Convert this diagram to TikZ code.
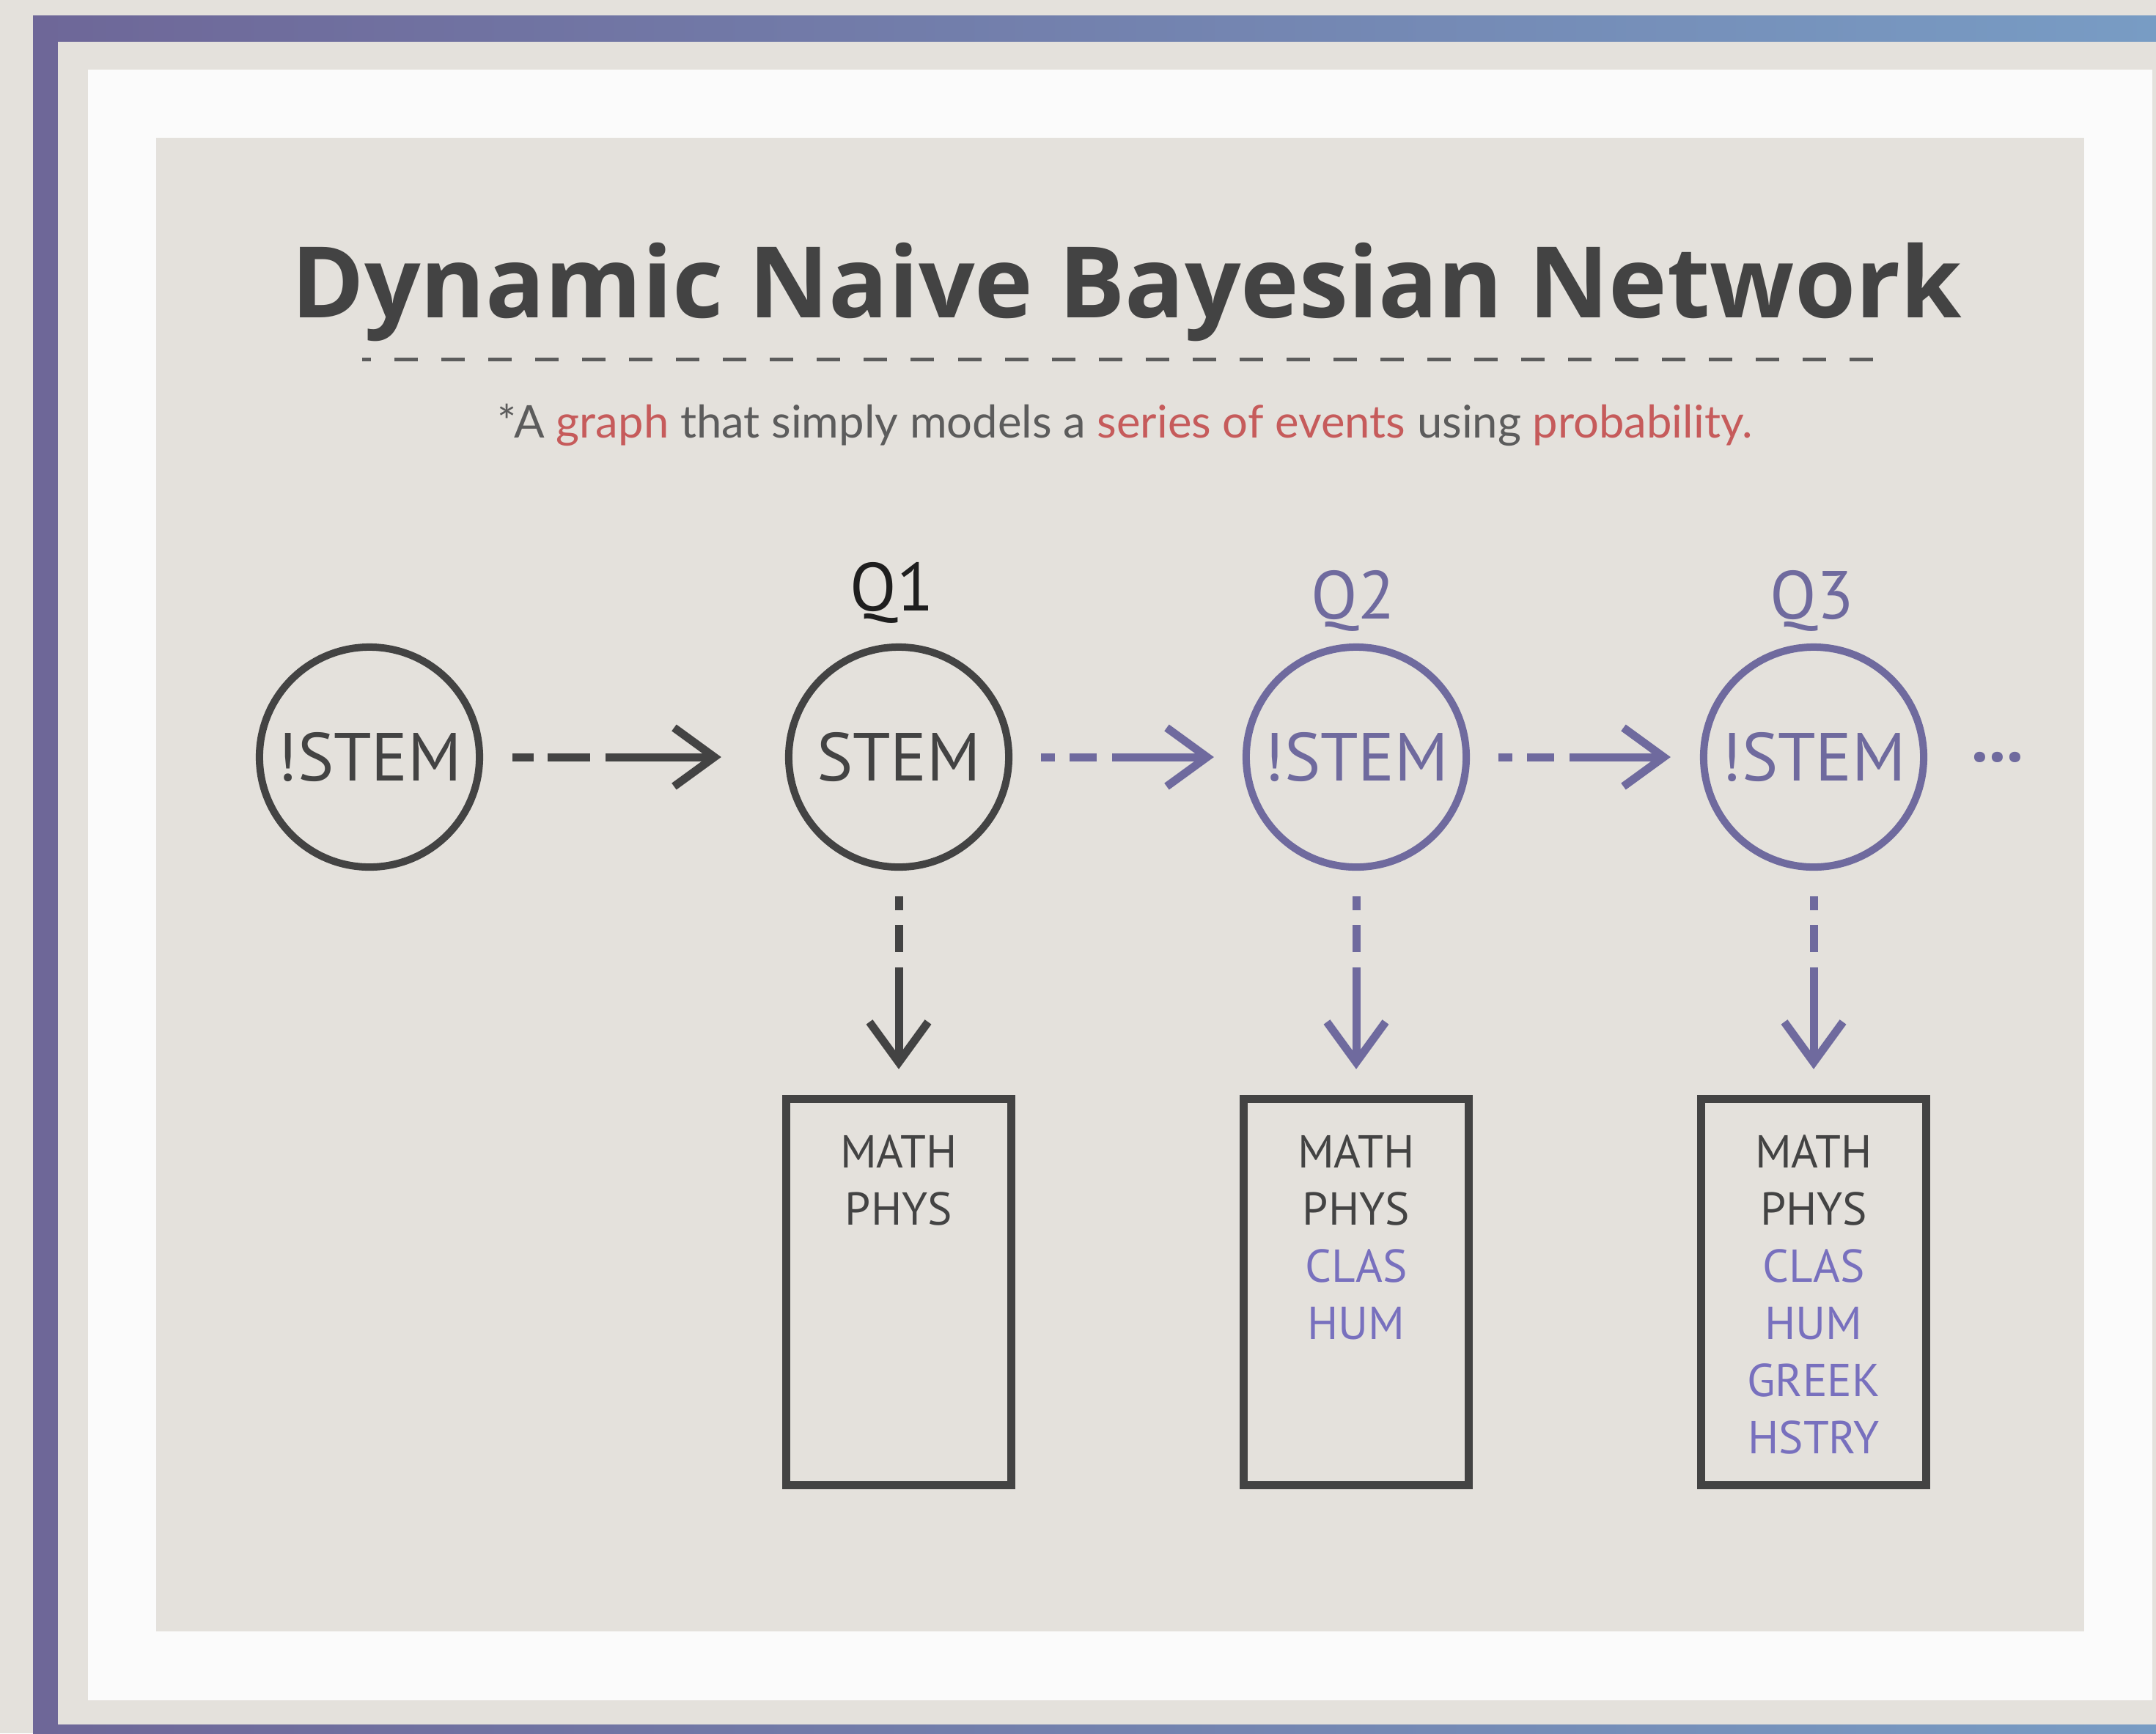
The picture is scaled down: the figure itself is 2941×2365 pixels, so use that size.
\documentclass[tikz,border=0pt]{standalone}
\usepackage{fontspec}
\setmainfont{PT Sans}
\newfontfamily\headfont{Open Sans}
\newfontfamily\notefont{Lato}
\usepackage{tikz}
\usetikzlibrary{arrows.meta,positioning,calc}

\definecolor{paper}{HTML}{E4E1DC}
\definecolor{sheet}{HTML}{FBFBFB}
\definecolor{framepurple}{HTML}{6E6798}
\definecolor{frameblue}{HTML}{789CC4}
\definecolor{inkgray}{HTML}{434343}
\definecolor{qblack}{HTML}{1E1E1E}
\definecolor{stempurple}{HTML}{6F6A9E}
\definecolor{listpurple}{HTML}{7870BE}
\definecolor{notegray}{HTML}{5C5C5C}
\definecolor{notered}{HTML}{C65B5B}

\begin{document}
\begin{tikzpicture}[x=0.01cm,y=-0.01cm]
        \tikzstyle{every node}=[font=\fontsize{26.4}{32}\selectfont]
        \tikzstyle{stemnode}=[circle,draw,line width=0.1cm,minimum size=3cm,inner sep=0pt]
        \tikzstyle{listbox}=[rectangle,draw=inkgray,line width=0.11cm,minimum width=3.06cm,minimum height=5.27cm]
        \tikzstyle{listtext}=[anchor=north,align=center,inner sep=0pt,font=\fontsize{17.9}{22.2}\selectfont]
        \tikzstyle{flow}=[line width=0.11cm,-{Straight Barb[length=0.55cm,width=0.8cm]},dash pattern=on 0.19cm off 0.2cm on 0.37cm off 0.21cm on 4cm]

        \useasboundingbox (0,0) rectangle (2941,2365);
        %%% Frame
        \fill[paper] (0,0) rectangle (2941,2365);
        \fill[left color=framepurple,right color=frameblue] (45,21) rectangle (2941,56);
        \fill[left color=framepurple,right color=frameblue] (45,2353) rectangle (2941,2365);
        \fill[framepurple] (45,21) rectangle (79,2365);
        \fill[sheet] (120,95) rectangle (2936,2320);
        \fill[paper] (213,188) rectangle (2843,2226);

        %%% Title
        \node[anchor=base,text=inkgray,font=\headfont\bfseries\fontsize{38.3}{46}\selectfont] (title) at (1537,433) {Dynamic Naive Bayesian Network};
        \draw[notegray,line width=0.05cm,dash pattern=on 0.32cm off 0.32cm,dash phase=0.2cm] (494,490) -- (2575,490);
        \node[anchor=base,text=notegray,font=\notefont\fontsize{17.5}{21}\selectfont] (note) at (1535,597) {*A \textcolor{notered}{graph} that simply models a \textcolor{notered}{series of events} using \textcolor{notered}{probability.}};

        %%% Chain
        \node[stemnode,draw=inkgray,text=inkgray] (s0) at (504,1033) {!STEM};
        \node[stemnode,draw=inkgray,text=inkgray] (s1) at (1226,1033) {STEM};
        \node[stemnode,draw=stempurple,text=stempurple] (s2) at (1850,1033) {!STEM};
        \node[stemnode,draw=stempurple,text=stempurple] (s3) at (2474,1033) {!STEM};
        \node[text=stempurple] (more) at (2725,1033) {\bfseries ...};

        \node[anchor=base,text=qblack] (q1) at (1217,833) {Q1};
        \node[anchor=base,text=stempurple] (q2) at (1846,844) {Q2};
        \node[anchor=base,text=stempurple] (q3) at (2472,844) {Q3};

        \node[listbox] (b1) at (1226,1763) {};
        \node[listbox] (b2) at (1850,1763) {};
        \node[listbox] (b3) at (2474,1763) {};
        \node[listtext,text=inkgray] (l1) at ([yshift=-0.54cm]b1.north) {MATH\\PHYS};
        \node[listtext,text=inkgray] (l2) at ([yshift=-0.54cm]b2.north) {MATH\\PHYS\\\textcolor{listpurple}{CLAS}\\\textcolor{listpurple}{HUM}};
        \node[listtext,text=inkgray] (l3) at ([yshift=-0.54cm]b3.north) {MATH\\PHYS\\\textcolor{listpurple}{CLAS}\\\textcolor{listpurple}{HUM}\\\textcolor{listpurple}{GREEK}\\\textcolor{listpurple}{HSTRY}};

        \draw[flow,draw=inkgray,dash pattern=on 0.29cm off 0.19cm on 0.58cm off 0.21cm on 4cm,shorten <=0.4cm,shorten >=0.87cm] (s0.east) -- (s1.west);
        \draw[flow,draw=stempurple,shorten <=0.39cm,shorten >=0.39cm] (s1.east) -- (s2.west);
        \draw[flow,draw=stempurple,shorten <=0.39cm,shorten >=0.4cm] (s2.east) -- (s3.west);
        \draw[flow,draw=inkgray,shorten <=0.35cm,shorten >=0.35cm] (s1.south) -- (b1.north);
        \draw[flow,draw=stempurple,shorten <=0.35cm,shorten >=0.35cm] (s2.south) -- (b2.north);
        \draw[flow,draw=stempurple,shorten <=0.35cm,shorten >=0.35cm] (s3.south) -- (b3.north);
\end{tikzpicture}
\end{document}
